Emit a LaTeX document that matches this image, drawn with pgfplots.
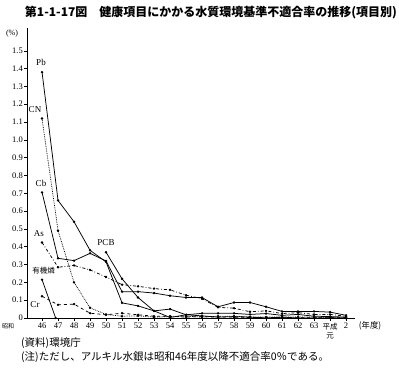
\documentclass[border=0pt]{standalone}
\usepackage{fontspec}
\setmainfont{Liberation Serif}
\newfontfamily\jp{Noto Sans CJK JP}
\usepackage{pgfplots}
\pgfplotsset{compat=1.18}
\begin{document}
\begin{tikzpicture}[x=1pt,y=1pt]
\path[use as bounding box] (0,0) rectangle (399,369);
\begin{axis}[
 at={(27pt,51pt)}, anchor=south west, scale only axis,
 width=328pt, height=290pt,
 xmin=-0.94, xmax=19.56, ymin=0, ymax=1.628,
 axis x line=bottom, axis y line=left,
 axis line style={-, line width=0.6pt},
 xtick={0,1,2,3,4,5,6,7,8,9,10,11,12,13,14,15,16,17,18,19},
 xticklabels={46,47,48,49,50,51,52,53,54,55,56,57,58,59,60,61,62,63,{{\jp\fontsize{7.5}{8.5}\selectfont 平成}\\{\jp\fontsize{7.5}{8.5}\selectfont 元}},2},
 xticklabel style={font=\fontsize{8.5}{9}\selectfont, align=center, anchor=north, inner sep=1pt, yshift=-1pt},
 ytick={0,0.1,0.2,0.3,0.4,0.5,0.6,0.7,0.8,0.9,1.0,1.1,1.2,1.3,1.4,1.5},
 yticklabels={0,0.1,0.2,0.3,0.4,0.5,0.6,0.7,0.8,0.9,1.0,1.1,1.2,1.3,1.4,1.5},
 yticklabel style={font=\fontsize{8.5}{9}\selectfont, inner sep=1pt},
 tick align=outside, major tick length=3pt,
 tick style={black, line width=0.5pt},
 clip=false,
 every axis plot/.append style={black, line width=0.75pt, mark=*, mark size=0.8pt, mark options={solid, fill=black}},
]
% Pb
\addplot[solid] coordinates {(0,1.38)(1,0.66)(2,0.54)(3,0.38)(4,0.315)(5,0.085)(6,0.068)(7,0.04)(8,0.05)(9,0.018)(10,0.026)(11,0.026)(12,0.026)(13,0.02)(14,0.025)(15,0.015)(16,0.02)(17,0.01)(18,0.008)(19,0.005)};
% CN
\addplot[densely dotted] coordinates {(0,1.12)(1,0.49)(2,0.2)(3,0.057)(4,0.02)(5,0.01)(6,0.012)(7,0.005)(8,0.008)(9,0.01)(10,0.005)(11,0.01)(12,0.01)(13,0.005)(14,0.005)(15,0.005)(16,0.005)(17,0.005)(18,0.003)(19,0)};
% Cb
\addplot[solid] coordinates {(0,0.705)(1,0.335)(2,0.322)(3,0.363)(4,0.32)(5,0.148)(6,0.148)(7,0.14)(8,0.125)(9,0.115)(10,0.115)(11,0.063)(12,0.087)(13,0.087)(14,0.063)(15,0.037)(16,0.037)(17,0.037)(18,0.033)(19,0.015)};
% As
\addplot[dash dot] coordinates {(0,0.424)(1,0.285)(2,0.295)(3,0.27)(4,0.23)(5,0.187)(6,0.178)(7,0.165)(8,0.158)(9,0.128)(10,0.108)(11,0.06)(12,0.055)(13,0.035)(14,0.04)(15,0.025)(16,0.03)(17,0.02)(18,0.02)(19,0.01)};
% organophosphorus
\addplot[solid] coordinates {(0,0.215)(0.85,0)};
% Cr
\addplot[dashed] coordinates {(0,0.122)(1,0.074)(2,0.078)(3,0.027)(4,0.018)(5,0.027)(6,0.018)(7,0.01)(8,0.01)(9,0.005)(10,0.008)(11,0.005)(12,0.005)(13,0.003)(14,0.003)(15,0.002)(16,0.002)(17,0.002)(18,0.002)(19,0.002)};
% PCB
\addplot[solid] coordinates {(4,0.369)(5,0.22)(6,0.115)(7,0.04)(8,0.003)(9,0.018)(10,0.012)(11,0.005)(12,0.008)(13,0.005)(14,0)(15,0.005)(16,0)(17,0)(18,0)(19,0)};
\end{axis}
\node[font=\jp\bfseries\fontsize{12}{14}\selectfont] at (211,356) {第1-1-17図　健康項目にかかる水質環境基準不適合率の推移(項目別)};
\node[font=\fontsize{8}{9}\selectfont] at (12,335) {(\%)};
\node[font=\jp\fontsize{8.3}{9}\selectfont] at (370,43) {(年度)};
\node[font=\jp\fontsize{6}{7}\selectfont] at (8,43) {昭和};
\node[font=\fontsize{9}{10}\selectfont] at (41,307) {Pb};
\node[font=\fontsize{9}{10}\selectfont] at (35,259) {CN};
\node[font=\fontsize{9}{10}\selectfont] at (41,185.7) {Cb};
\node[font=\fontsize{9}{10}\selectfont] at (39,135) {As};
\node[font=\jp\fontsize{7.5}{8}\selectfont] at (43.5,98.3) {有機燐};
\node[font=\fontsize{9}{10}\selectfont] at (35,64.7) {Cr};
\node[font=\fontsize{9}{10}\selectfont] at (106,126.3) {PCB};
\node[anchor=west, font=\jp\fontsize{10.5}{12}\selectfont, inner sep=0pt] at (21,26) {(資料)環境庁};
\node[anchor=west, font=\jp\fontsize{10.5}{12}\selectfont, inner sep=0pt] at (21,12) {(注)ただし、アルキル水銀は昭和46年度以降不適合率0％である。};
\end{tikzpicture}
\end{document}
